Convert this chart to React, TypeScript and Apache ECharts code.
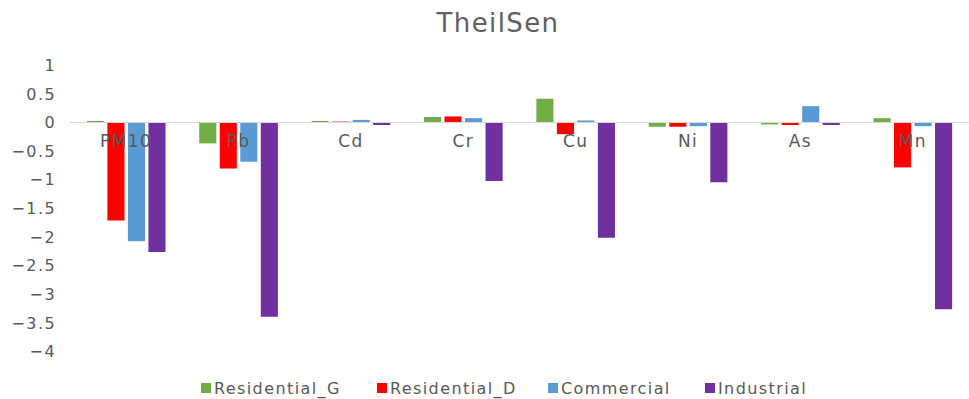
import React, { useEffect, useRef } from "react";
import * as echarts from "echarts";

const categories = ["PM10", "Pb", "Cd", "Cr", "Cu", "Ni", "As", "Mn"];
const residentialG = [0.03, -0.36, 0.03, 0.1, 0.42, -0.07, -0.03, 0.08];
const residentialD = [-1.71, -0.8, 0.02, 0.11, -0.2, -0.07, -0.04, -0.78];
const commercial = [-2.07, -0.68, 0.05, 0.08, 0.04, -0.06, 0.29, -0.06];
const industrial = [-2.26, -3.39, -0.04, -1.02, -2.01, -1.04, -0.04, -3.26];
const seriesNames = ["Residential_G", "Residential_D", "Commercial", "Industrial"];
const colors = ["#70AD47", "#FF0000", "#5B9BD5", "#7030A0"];

const Y_MIN = -4;
const Y_MAX = 1;
const GRID_TOP = 65.5;
const GRID_BOTTOM = 47.3;
const FONT = "DejaVu Sans";
const legendLefts = [196, 372, 543, 700];

export default function App() {
  const ref = useRef<HTMLDivElement>(null);
  useEffect(() => {
    if (!ref.current) return;
    const chart = echarts.init(ref.current, null, { renderer: "svg" });
    const data = [residentialG, residentialD, commercial, industrial];
    const gridH = 399 - GRID_TOP - GRID_BOTTOM;
    const zeroOffset = (gridH * Y_MAX) / (Y_MAX - Y_MIN);
    chart.setOption({
      animation: false,
      backgroundColor: "#ffffff",
      title: {
        text: "TheilSen",
        left: 493,
        textAlign: "center",
        top: 5,
        textStyle: {
          fontFamily: FONT,
          fontSize: 26,
          fontWeight: "normal",
          color: "#5f5f5f",
        },
      },
      legend: seriesNames.map((name, i) => ({
        top: 375,
        left: legendLefts[i],
        icon: "rect",
        itemWidth: 10,
        itemHeight: 10,
        textStyle: { fontFamily: FONT, fontSize: 16, color: "#595959", padding: [0, 0, 0, -2] },
        data: [name],
      })),
      grid: { left: 70, right: -9, top: GRID_TOP, bottom: GRID_BOTTOM, containLabel: false },
      xAxis: {
        type: "category",
        position: "top",
        offset: -zeroOffset,
        z: 10,
        data: categories,
        axisLine: { onZero: false, lineStyle: { color: "#D9D9D9", width: 1 } },
        axisTick: { show: false },
        axisLabel: { inside: true, fontFamily: FONT, fontSize: 17, color: "#595959", margin: 10 },
      },
      yAxis: {
        type: "value",
        min: Y_MIN,
        max: Y_MAX,
        interval: 0.5,
        axisLine: { show: false },
        axisTick: { show: false },
        splitLine: { show: false },
        axisLabel: {
          fontFamily: FONT,
          fontSize: 16,
          color: "#595959",
          margin: 14,
          formatter: (v: number) => String(v).replace("-", "\u2212"),
        },
      },
      series: seriesNames.map((name, i) => ({
        name,
        type: "bar",
        data: data[i],
        barGap: "20%",
        barCategoryGap: "30%",
        itemStyle: { color: colors[i] },
      })),
    });
    return () => chart.dispose();
  }, []);
  return (
    <div
      ref={ref}
      style={{ position: "absolute", left: 0, top: 0, width: 969, height: 399, letterSpacing: "1.4px" }}
    />
  );
}
